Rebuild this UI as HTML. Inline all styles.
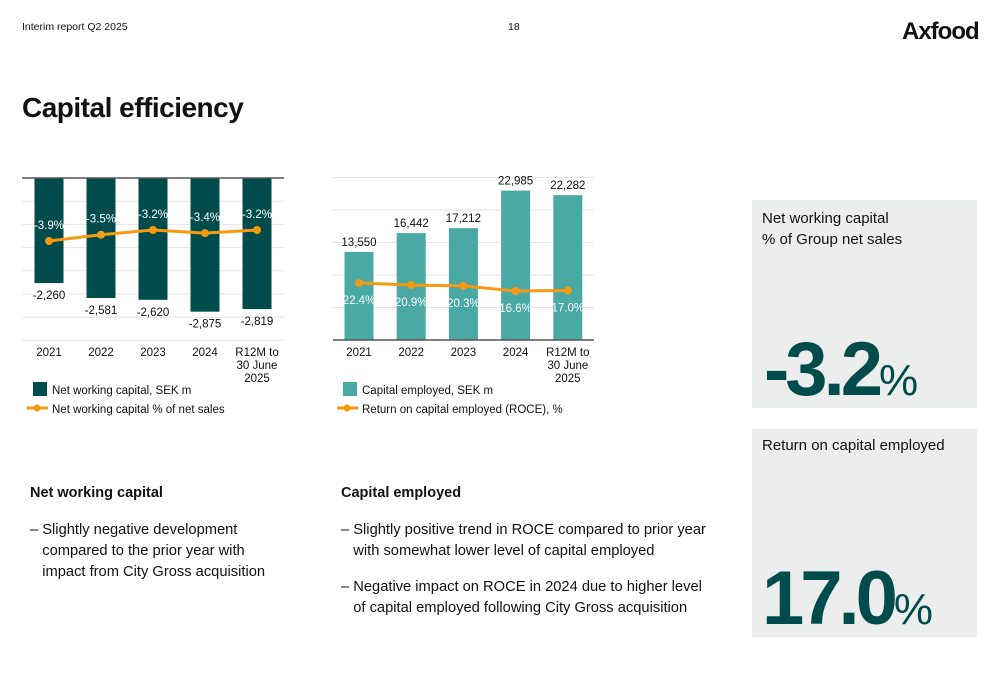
<!DOCTYPE html>
<html><head><meta charset="utf-8">
<style>
body{margin:0;width:1000px;height:685px;background:#fff;font-family:"Liberation Sans",sans-serif;color:#111;position:relative;overflow:hidden}
.a{position:absolute;white-space:nowrap}
.box{position:absolute;left:752px;width:225px;background:#eceeed}
.big{position:absolute;color:#004b4b;font-weight:bold;font-size:76px;letter-spacing:-4px;line-height:1}
.big span{font-weight:normal;font-size:44px;letter-spacing:0}
.bul{font-size:14.7px;line-height:21px}
</style></head><body>
<div class="a" style="left:22px;top:21px;font-size:10.5px">Interim report Q2 2025</div>
<div class="a" style="left:508px;top:21px;font-size:10.5px">18</div>
<div class="a" style="left:902px;top:18px;font-size:24px;font-weight:bold;letter-spacing:-1px">Axfood</div>
<div class="a" style="left:22px;top:92px;font-size:28px;font-weight:bold;letter-spacing:-0.5px">Capital efficiency</div>

<svg class="a" style="left:0;top:0" width="740" height="430" id="svg"></svg>

<div class="box" style="top:200px;height:208px">
 <div class="a" style="left:10px;top:8px;font-size:15px;line-height:21px">Net working capital<br>% of Group net sales</div>
 <div class="big" style="left:12px;top:132px">-3.2<span>%</span></div>
</div>
<div class="box" style="top:429px;height:208px">
 <div class="a" style="left:10px;top:8px;font-size:15px">Return on capital employed</div>
 <div class="big" style="left:10px;top:132px">17.0<span>%</span></div>
</div>

<div class="a" style="left:30px;top:485px;font-size:14.5px;font-weight:bold">Net working capital</div>
<div class="a bul" style="left:30px;top:520px">– Slightly negative development<br>&nbsp;&nbsp;&nbsp;compared to the prior year with<br>&nbsp;&nbsp;&nbsp;impact from City Gross acquisition</div>
<div class="a" style="left:341px;top:485px;font-size:14.5px;font-weight:bold">Capital employed</div>
<div class="a bul" style="left:341px;top:520px">– Slightly positive trend in ROCE compared to prior year<br>&nbsp;&nbsp;&nbsp;with somewhat lower level of capital employed</div>
<div class="a bul" style="left:341px;top:577px">– Negative impact on ROCE in 2024 due to higher level<br>&nbsp;&nbsp;&nbsp;of capital employed following City Gross acquisition</div>

<script>
const categories=["2021","2022","2023","2024","R12M to|30 June|2025"];
const nwcValues=[-2260,-2581,-2620,-2875,-2819];
const nwcPct=[-3.9,-3.5,-3.2,-3.4,-3.2];
const nwcLabels=["-2,260","-2,581","-2,620","-2,875","-2,819"];
const ceValues=[13550,16442,17212,22985,22282];
const ceLabels=["13,550","16,442","17,212","22,985","22,282"];
const rocePct=[22.4,20.9,20.3,16.6,17.0];
const svg=document.getElementById('svg');
const NS='http://www.w3.org/2000/svg';
function mk(t,a,p){const e=document.createElementNS(NS,t);for(const k in a)e.setAttribute(k,a[k]);(p||svg).appendChild(e);return e;}
function txt(x,y,s,o){const e=mk('text',Object.assign({x:x,y:y,'font-size':11.5,'text-anchor':'middle','font-family':'Liberation Sans, sans-serif',fill:'#111'},o||{}));e.textContent=s;return e;}
const OR='#f79a12';
const lx=i=>49+i*52, ly=v=>178-v*0.0465, lp=p=>241-(p+3.9)*15.7;
for(let g=1;g<=7;g++){const l=mk('line',{x1:22,x2:284,y1:178+g*23.2,y2:178+g*23.2,stroke:'#e4e4e4'});}
nwcValues.forEach((v,i)=>{const r=mk('rect',{x:lx(i)-14.5,y:ly(0),width:29,height:ly(v)-ly(0),fill:'#004b4b'});
 const t=txt(lx(i),ly(v)+16,nwcLabels[i]);});
mk('line',{x1:22,x2:284,y1:178,y2:178,stroke:'#555','stroke-width':1.5});
mk('polyline',{points:nwcPct.map((p,i)=>lx(i)+','+lp(p)).join(' '),fill:'none',stroke:OR,'stroke-width':3});
nwcPct.forEach((p,i)=>{const c=mk('circle',{cx:lx(i),cy:lp(p),r:4,fill:OR});
 const t=txt(lx(i),lp(p)-12,p.toFixed(1)+'%',{fill:'#fff'});});
const rx=i=>359+i*52.2, ry=v=>340-v*0.0065, rp=p=>283+(22.4-p)*1.38;
for(let g=0;g<5;g++){const l=mk('line',{x1:333,x2:594,y1:ry(g*5000+5000),y2:ry(g*5000+5000),stroke:'#e4e4e4'});}
ceValues.forEach((v,i)=>{const r=mk('rect',{x:rx(i)-14.5,y:ry(v),width:29,height:ry(0)-ry(v),fill:'#4aa9a5'});
 const t=txt(rx(i),ry(v)-6,ceLabels[i]);});
mk('line',{x1:333,x2:594,y1:340,y2:340,stroke:'#555','stroke-width':1.5});
mk('polyline',{points:rocePct.map((p,i)=>rx(i)+','+rp(p)).join(' '),fill:'none',stroke:OR,'stroke-width':3});
rocePct.forEach((p,i)=>{const c=mk('circle',{cx:rx(i),cy:rp(p),r:4,fill:OR});
 const t=txt(rx(i),rp(p)+21,p.toFixed(1)+'%',{fill:'#fff'});});
categories.forEach((c,i)=>{c.split('|').forEach((s,j)=>{const a=txt(lx(i),356+j*13,s);
 const b=txt(rx(i),356+j*13,s);});});
let e=mk('rect',{x:33,y:382,width:14,height:14,fill:'#004b4b'});
txt(52,394,'Net working capital, SEK m',{'text-anchor':'start'});
mk('line',{x1:27,x2:48,y1:408,y2:408,stroke:OR,'stroke-width':3});mk('circle',{cx:37,cy:408,r:3.5,fill:OR});
txt(52,413,'Net working capital % of net sales',{'text-anchor':'start'});
e=mk('rect',{x:343,y:382,width:14,height:14,fill:'#4aa9a5'});
txt(362,394,'Capital employed, SEK m',{'text-anchor':'start'});
mk('line',{x1:337,x2:358,y1:408,y2:408,stroke:OR,'stroke-width':3});mk('circle',{cx:347,cy:408,r:3.5,fill:OR});
txt(362,413,'Return on capital employed (ROCE), %',{'text-anchor':'start'});
</script>
</body></html>
